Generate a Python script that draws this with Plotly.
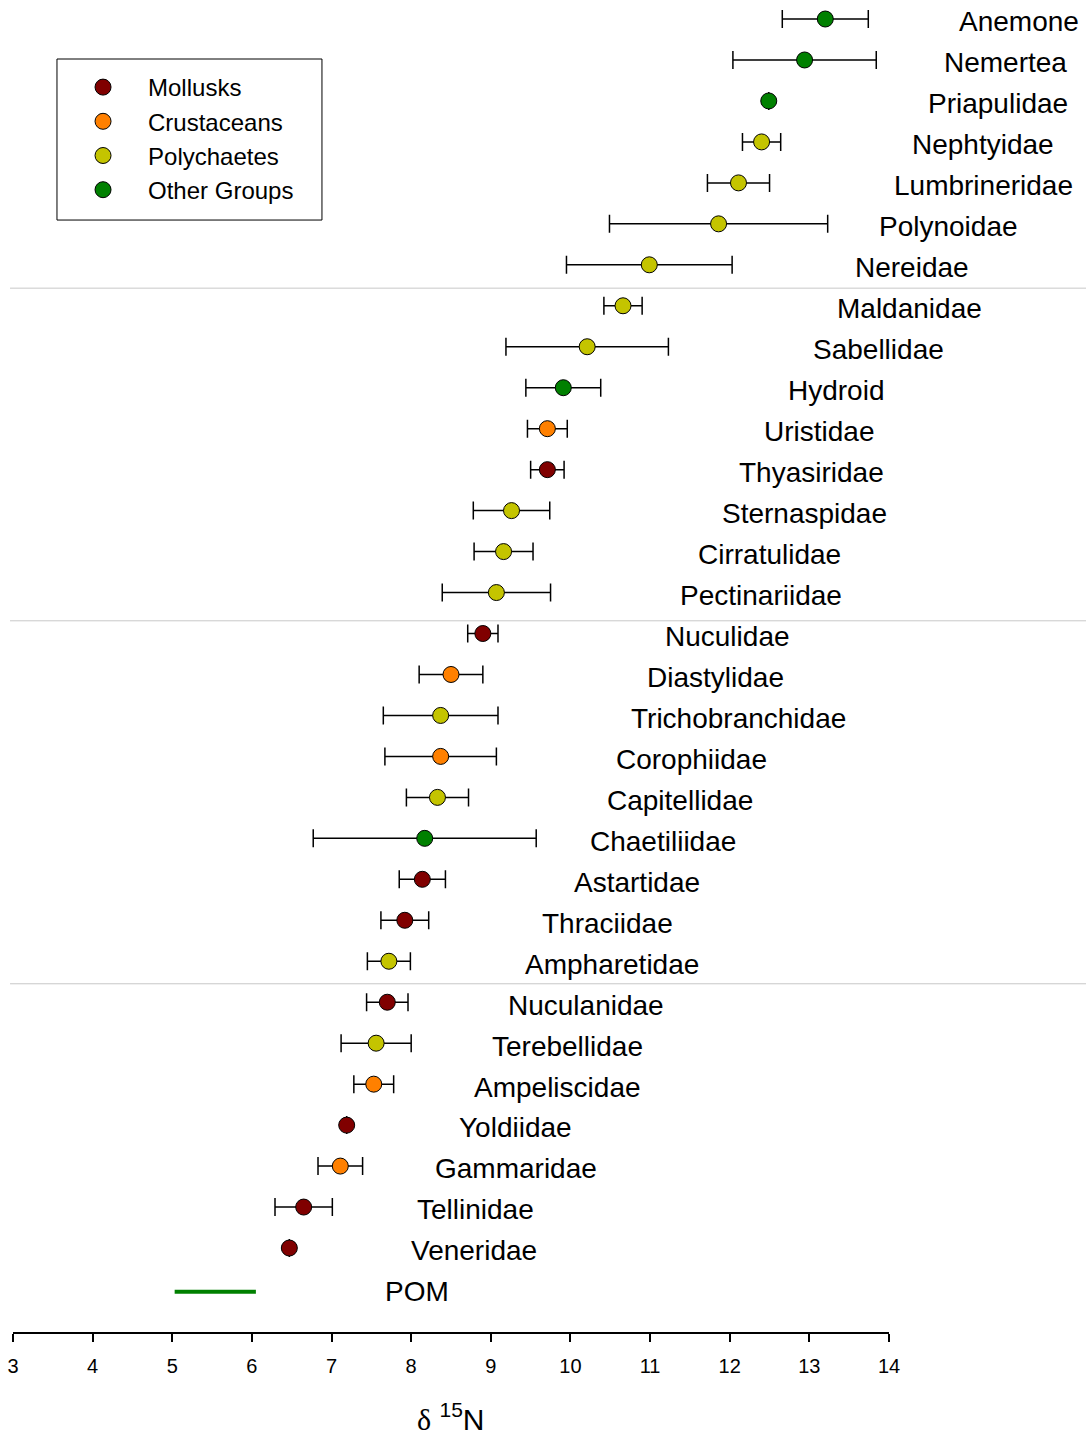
import plotly.graph_objects as go

# Taxa listed top to bottom, with their feeding group, mean δ15N and standard deviation
taxa = [
    "Anemone", "Nemertea", "Priapulidae", "Nephtyidae", "Lumbrineridae", "Polynoidae", "Nereidae",
    "Maldanidae", "Sabellidae", "Hydroid", "Uristidae", "Thyasiridae", "Sternaspidae", "Cirratulidae",
    "Pectinariidae",
    "Nuculidae", "Diastylidae", "Trichobranchidae", "Corophiidae", "Capitellidae", "Chaetiliidae",
    "Astartidae", "Thraciidae", "Ampharetidae",
    "Nuculanidae", "Terebellidae", "Ampeliscidae", "Yoldiidae", "Gammaridae", "Tellinidae", "Veneridae",
]
groups = [
    "Other Groups", "Other Groups", "Other Groups", "Polychaetes", "Polychaetes", "Polychaetes", "Polychaetes",
    "Polychaetes", "Polychaetes", "Other Groups", "Crustaceans", "Mollusks", "Polychaetes", "Polychaetes",
    "Polychaetes",
    "Mollusks", "Crustaceans", "Polychaetes", "Crustaceans", "Polychaetes", "Other Groups",
    "Mollusks", "Mollusks", "Polychaetes",
    "Mollusks", "Polychaetes", "Crustaceans", "Mollusks", "Crustaceans", "Mollusks", "Mollusks",
]
d15n_mean = [
    13.20, 12.94, 12.49, 12.40, 12.11, 11.86, 10.99,
    10.66, 10.21, 9.91, 9.71, 9.71, 9.26, 9.16,
    9.07,
    8.90, 8.50, 8.37, 8.37, 8.33, 8.17,
    8.14, 7.92, 7.72,
    7.70, 7.56, 7.53, 7.19, 7.11, 6.65, 6.47,
]
d15n_sd = [
    0.54, 0.90, None, 0.24, 0.39, 1.37, 1.04,
    0.24, 1.02, 0.47, 0.25, 0.21, 0.48, 0.37,
    0.68,
    0.19, 0.40, 0.72, 0.70, 0.39, 1.40,
    0.29, 0.30, 0.27,
    0.26, 0.44, 0.25, None, 0.28, 0.36, None,
]

# Particulate organic matter baseline
pom_label = "POM"
pom_mean = 5.54
pom_sd = 0.51

group_order = ["Mollusks", "Crustaceans", "Polychaetes", "Other Groups"]
group_colors = {
    "Mollusks": "#800000",
    "Crustaceans": "#ff8000",
    "Polychaetes": "#c4c400",
    "Other Groups": "#008000",
}

X_MIN, X_MAX = 3, 14

# Left edge (in δ15N units) of each name label, running diagonally down the chart
label_x = [
    14.85, 14.67, 14.46, 14.26, 14.04, 13.85, 13.55,
    13.32, 13.02, 12.71, 12.41, 12.09, 11.88, 11.58,
    11.35,
    11.16, 10.94, 10.74, 10.55, 10.43, 10.22,
    10.02, 9.62, 9.40,
    9.19, 8.99, 8.76, 8.58, 8.27, 8.05, 7.97,
]
pom_label_x = 7.65

# Row positions of the grey separators between blocks of taxa
separator_rows = [6.57, 14.69, 23.55]

rows = list(range(len(taxa)))
pom_row = len(taxa)


def to_paper(v):
    return (v - X_MIN) / (X_MAX - X_MIN)


fig = go.Figure()

for g in group_order:
    idx = [i for i in rows if groups[i] == g]
    fig.add_trace(go.Scatter(
        x=[d15n_mean[i] for i in idx],
        y=[rows[i] for i in idx],
        mode="markers",
        name=g,
        marker=dict(size=16, color=group_colors[g], line=dict(color="black", width=1)),
        error_x=dict(
            type="data",
            array=[d15n_sd[i] if d15n_sd[i] is not None else float("nan") for i in idx],
            symmetric=True,
            color="black",
            thickness=1.5,
            width=9,
        ),
    ))

fig.add_trace(go.Scatter(
    x=[pom_mean - pom_sd, pom_mean + pom_sd],
    y=[pom_row + 0.07, pom_row + 0.07],
    mode="lines",
    line=dict(color="#008000", width=4),
    showlegend=False,
))

label_font = dict(family="Arial, Liberation Sans, sans-serif", size=28, color="black")
annotations = []
for i in rows:
    annotations.append(dict(
        x=to_paper(label_x[i]), y=rows[i] + 0.07, xref="paper", yref="y",
        text=taxa[i], showarrow=False, xanchor="left", yanchor="middle", font=label_font,
    ))
annotations.append(dict(
    x=to_paper(pom_label_x), y=pom_row + 0.05, xref="paper", yref="y",
    text=pom_label, showarrow=False, xanchor="left", yanchor="middle", font=label_font,
))
annotations.append(dict(
    x=0.5, y=-0.064, xref="paper", yref="paper",
    text='<span style="font-family:Liberation Serif, Times New Roman, serif">δ</span> <sup>15</sup>N',
    showarrow=False, xanchor="center", yanchor="middle",
    font=dict(family="Arial, Liberation Sans, sans-serif", size=30, color="black"),
))

shapes = []
for r in separator_rows:
    shapes.append(dict(
        type="line", xref="paper", yref="y",
        x0=-0.0034, x1=1.225, y0=r, y1=r,
        line=dict(color="#c8c8c8", width=1),
    ))
# Frame around the legend
shapes.append(dict(
    type="rect", xref="paper", yref="paper",
    x0=0.0502, x1=0.3527, y0=0.8348, y1=0.9557,
    line=dict(color="black", width=1), fillcolor="rgba(0,0,0,0)",
))

fig.update_layout(
    width=1086, height=1437,
    margin=dict(l=13, r=197, t=0, b=105),
    paper_bgcolor="white", plot_bgcolor="white",
    font=dict(family="Arial, Liberation Sans, sans-serif", color="black"),
    showlegend=True,
    legend=dict(
        x=0.0514, y=0.9512, xanchor="left", yanchor="top",
        bgcolor="rgba(0,0,0,0)", borderwidth=0,
        itemwidth=80, font=dict(size=24, color="black"),
        traceorder="normal",
    ),
    annotations=annotations,
    shapes=shapes,
    xaxis=dict(
        range=[X_MIN, X_MAX], tickvals=list(range(X_MIN, X_MAX + 1)),
        ticks="outside", ticklen=8, tickwidth=1.5, tickcolor="black",
        ticklabelstandoff=7,
        showline=True, linewidth=1.5, linecolor="black",
        showgrid=False, zeroline=False,
        tickfont=dict(size=20, color="black"),
    ),
    yaxis=dict(
        range=[32.05, -0.464], visible=False, showgrid=False, zeroline=False,
    ),
)

fig.write_html("out.html")
